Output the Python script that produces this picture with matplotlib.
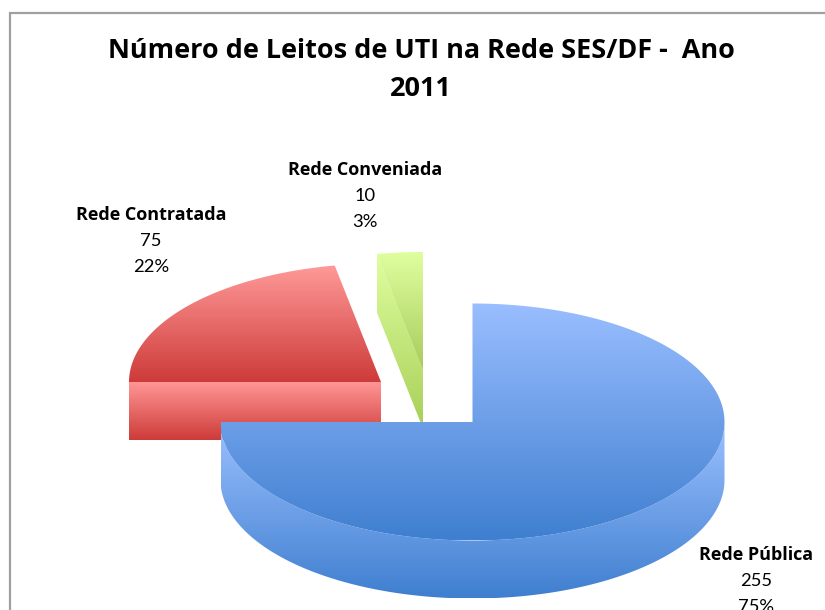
import numpy as np
import matplotlib
matplotlib.use("Agg")
import matplotlib.pyplot as plt
from matplotlib.patches import Polygon
from matplotlib.colors import LinearSegmentedColormap

# Data
categories = ["Rede Pública", "Rede Contratada", "Rede Conveniada"]
values = [255, 75, 10]
percent_labels = ["75%", "22%", "3%"]
title_line1 = "Número de Leitos de UTI na Rede SES/DF -  Ano"
title_line2 = "2011"

# Styling / layout (pixel space)
centers = [(472.5, 422), (381, 382), (423, 370.5)]
RX, RY, DEPTH = 252, 118.5, 58
top_cols = [("#9ABEFF", "#3F7FD0"), ("#FF9A99", "#CD3B39"), ("#DFFF9F", "#A8CC5C")]
side_cols = [("#9DC1FF", "#3F7FD0"), ("#FF9695", "#CD3B39"), ("#DFFF9F", "#A8CF58")]
label_pos = [(756, 555), (151, 215), (365, 170)]

plt.rcParams["font.family"] = ["Lato", "DejaVu Sans"]
fig = plt.figure(figsize=(8.25, 6.10), dpi=100, facecolor="white")
ax = fig.add_axes([0, 0, 1, 1])
ax.set_xlim(0, 825)
ax.set_ylim(610, 0)
ax.axis("off")


def rim(cx, cy, a0, a1, n=200):
    t = np.radians(np.linspace(a0, a1, n))
    return np.column_stack([cx + RX * np.sin(t), cy - RY * np.cos(t)])


def gradient_poly(xy, colors, z):
    xy = np.asarray(xy)
    cmap = LinearSegmentedColormap.from_list("g", colors)
    x0, x1 = xy[:, 0].min(), xy[:, 0].max()
    y0, y1 = xy[:, 1].min(), xy[:, 1].max()
    im = ax.imshow(np.linspace(0, 1, 256)[:, None], cmap=cmap, aspect="auto",
                   extent=(x0, x1, y1, y0), origin="upper", zorder=z, interpolation="bilinear")
    patch = Polygon(xy, closed=True, transform=ax.transData, facecolor="none", edgecolor="none")
    ax.add_patch(patch)
    im.set_clip_path(patch)
    ax.set_xlim(0, 825)
    ax.set_ylim(610, 0)


total = sum(values)
angles = np.cumsum([0] + [v / total * 360 for v in values])
zorders = [3, 1, 2]

for i, (cx, cy) in enumerate(centers):
    a0, a1 = angles[i], angles[i + 1]
    z = zorders[i]
    top = rim(cx, cy, a0, a1)
    apex = np.array([[cx, cy]])
    if i == 0:
        # front outer wall
        edge = rim(cx, cy, 90, a1)
        wall = np.vstack([edge, (edge + [0, DEPTH])[::-1]])
    else:
        # cut face on the leading radius
        p = top[0]
        wall = np.array([p, [cx, cy], [cx, cy + DEPTH], p + [0, DEPTH]])
    gradient_poly(wall, side_cols[i], z)
    gradient_poly(np.vstack([apex, top]), top_cols[i], z + 0.1)

# Chart frame (only left and top edges fall inside the picture)
ax.plot([9.5, 9.5, 825], [610, 12.5, 12.5], color="#A0A0A0", lw=1.6, zorder=0, solid_joinstyle="miter")

ax.text(421, 50.5, title_line1, ha="center", va="center", fontsize=19.45, fontweight="bold",
        family=["Open Sans", "DejaVu Sans"], color="black", zorder=5)
ax.text(421, 88.5, title_line2, ha="center", va="center", fontsize=19.45, fontweight="bold",
        family=["Open Sans", "DejaVu Sans"], color="black", zorder=5)

for (x, y), c, v, p in zip(label_pos, categories, values, percent_labels):
    ax.text(x, y, c, ha="center", va="center", fontsize=13.0, fontweight="bold",
            family=["Open Sans", "DejaVu Sans"], color="black", zorder=5)
    ax.text(x, y + 26, str(v), ha="center", va="center", fontsize=13.2, color="black", zorder=5)
    ax.text(x, y + 52, p, ha="center", va="center", fontsize=13.2, color="black", zorder=5)

fig.savefig("out.png", dpi=100, facecolor="white")
